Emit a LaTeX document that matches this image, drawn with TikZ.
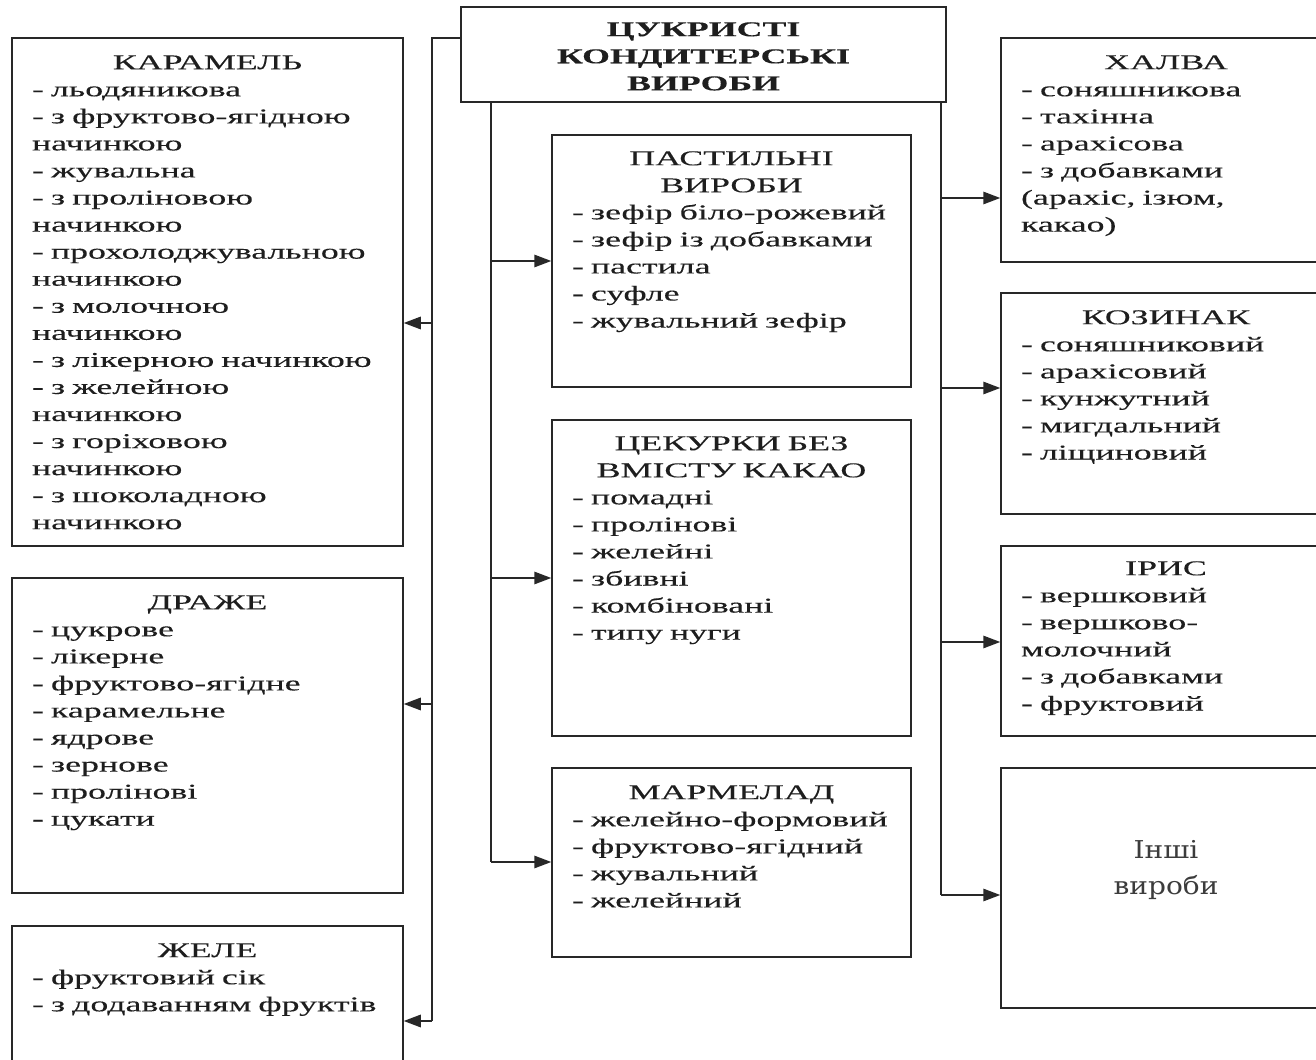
\documentclass[tikz,border=0pt]{standalone}
\usepackage{fontspec}
\setmainfont[FakeStretch=1.7,FakeBold=0.2]{Liberation Serif}
\newfontfamily\othersfont[FakeStretch=1.14]{DejaVu Serif}
\usepackage{tikz}
\usetikzlibrary{arrows.meta,positioning}
\usepackage{xcolor}
\definecolor{cdline}{RGB}{40,40,40}
\definecolor{cdtext}{RGB}{30,30,30}
\definecolor{cdgray}{RGB}{60,60,60}
\tikzstyle{catbox} = [rectangle, draw=cdline, line width=0.9pt, inner sep=0pt]
\tikzstyle{cattext} = [anchor=base, inner sep=0pt, align=left, text=cdtext, font=\fontsize{12}{15.4}\selectfont]
\tikzstyle{trunk} = [draw=cdline, line width=0.9pt]
\tikzstyle{arrow} = [trunk, -{Triangle[length=0.34cm,width=0.25cm]}]

\begin{document}
\begin{tikzpicture}[x=0.02cm, y=-0.02cm]
\useasboundingbox (0,0) rectangle (1316,1060);
\clip (0,0) rectangle (1316,1060);

% Main box
\node[catbox, minimum width=9.7cm, minimum height=1.9cm] (top) at (703.5,54.5) {};
\node[cattext, text width=9cm, font=\fontsize{12}{15.4}\selectfont\bfseries] (toptxt) at ([yshift=-0.6cm]top.north)
  {\centering ЦУКРИСТІ\\КОНДИТЕРСЬКІ\\ВИРОБИ\par};

% Left column
\node[catbox, minimum width=7.82cm, minimum height=10.16cm] (karamel) at (207.5,292) {};
\node[cattext, text width=7.02cm] (karameltxt) at ([yshift=-0.64cm]karamel.north)
  {{\centering КАРАМЕЛЬ\par}
   - льодяникова\\
   - з фруктово-ягідною\\
   начинкою\\
   - жувальна\\
   - з проліновою\\
   начинкою\\
   - прохолоджувальною\\
   начинкою\\
   - з молочною\\
   начинкою\\
   - з лікерною начинкою\\
   - з желейною\\
   начинкою\\
   - з горіховою\\
   начинкою\\
   - з шоколадною\\
   начинкою};

\node[catbox, minimum width=7.82cm, minimum height=6.3cm] (draje) at (207.5,735.5) {};
\node[cattext, text width=7.02cm] (drajetxt) at ([yshift=-0.64cm]draje.north)
  {{\centering ДРАЖЕ\par}
   - цукрове\\
   - лікерне\\
   - фруктово-ягідне\\
   - карамельне\\
   - ядрове\\
   - зернове\\
   - пролінові\\
   - цукати};

\node[catbox, minimum width=7.82cm, minimum height=3.28cm] (jele) at (207.5,1008) {};
\node[cattext, text width=7.02cm] (jeletxt) at ([yshift=-0.64cm]jele.north)
  {{\centering ЖЕЛЕ\par}
   - фруктовий сік\\
   - з додаванням фруктів};

% Middle column
\node[catbox, minimum width=7.18cm, minimum height=5.04cm] (pastyla) at (731.5,261) {};
\node[cattext, text width=6.38cm] (pastylatxt) at ([yshift=-0.62cm]pastyla.north)
  {{\centering ПАСТИЛЬНІ\\ВИРОБИ\par}
   - зефір біло-рожевий\\
   - зефір із добавками\\
   - пастила\\
   - суфле\\
   - жувальний зефір};

\node[catbox, minimum width=7.18cm, minimum height=6.32cm] (tsukerky) at (731.5,578) {};
\node[cattext, text width=6.38cm] (tsukerkytxt) at ([yshift=-0.62cm]tsukerky.north)
  {{\centering ЦЕКУРКИ БЕЗ\\ВМІСТУ КАКАО\par}
   - помадні\\
   - пролінові\\
   - желейні\\
   - збивні\\
   - комбіновані\\
   - типу нуги};

\node[catbox, minimum width=7.18cm, minimum height=3.78cm] (marmelad) at (731.5,862.5) {};
\node[cattext, text width=6.38cm] (marmeladtxt) at ([yshift=-0.64cm]marmelad.north)
  {{\centering МАРМЕЛАД\par}
   - желейно-формовий\\
   - фруктово-ягідний\\
   - жувальний\\
   - желейний};

% Right column
\node[catbox, minimum width=6.6cm, minimum height=4.48cm] (halva) at (1166,150) {};
\node[cattext, text width=5.8cm] (halvatxt) at ([yshift=-0.64cm]halva.north)
  {{\centering ХАЛВА\par}
   - соняшникова\\
   - тахінна\\
   - арахісова\\
   - з добавками\\
   (арахіс, ізюм,\\
   какао)};

\node[catbox, minimum width=6.6cm, minimum height=4.42cm] (kozynak) at (1166,403.5) {};
\node[cattext, text width=5.8cm] (kozynaktxt) at ([yshift=-0.64cm]kozynak.north)
  {{\centering КОЗИНАК\par}
   - соняшниковий\\
   - арахісовий\\
   - кунжутний\\
   - мигдальний\\
   - ліщиновий};

\node[catbox, minimum width=6.6cm, minimum height=3.8cm] (iris) at (1166,641) {};
\node[cattext, text width=5.8cm] (iristxt) at ([yshift=-0.6cm]iris.north)
  {{\centering ІРИС\par}
   - вершковий\\
   - вершково-\\
   молочний\\
   - з добавками\\
   - фруктовий};

\node[catbox, minimum width=6.6cm, minimum height=4.8cm] (inshi) at (1166,888) {};
\node[cattext, text width=5.8cm, text=cdgray, font=\othersfont\fontsize{14}{21}\selectfont] (inshitxt) at (1166,858)
  {\centering Інші\\вироби\par};

% Trunk lines
\coordinate (ltop) at (432,38);
\coordinate (lbot) at (432,1021);
\coordinate (l1) at (432,323);
\coordinate (l2) at (432,704);
\coordinate (mbot) at (491,862);
\coordinate (rbot) at (941,895);
\coordinate (r1) at (941,198);
\coordinate (r2) at (941,388);
\coordinate (r3) at (941,642);

\draw[trunk] (top.north west |- ltop) -- (ltop) -- (lbot);
\draw[trunk] (top.south -| mbot) -- (mbot);
\draw[trunk] (top.south -| rbot) -- (rbot);

% Arrows to the left
\draw[arrow] (l1) -- (l1 -| karamel.east);
\draw[arrow] (l2) -- (l2 -| draje.east);
\draw[arrow] (lbot) -- (lbot -| jele.east);

% Arrows to the middle
\draw[arrow] (pastyla.west -| mbot) -- (pastyla.west);
\draw[arrow] (tsukerky.west -| mbot) -- (tsukerky.west);
\draw[arrow] (mbot) -- (mbot -| marmelad.west);

% Arrows to the right
\draw[arrow] (r1) -- (r1 -| halva.west);
\draw[arrow] (r2) -- (r2 -| kozynak.west);
\draw[arrow] (r3) -- (r3 -| iris.west);
\draw[arrow] (rbot) -- (rbot -| inshi.west);
\end{tikzpicture}
\end{document}
